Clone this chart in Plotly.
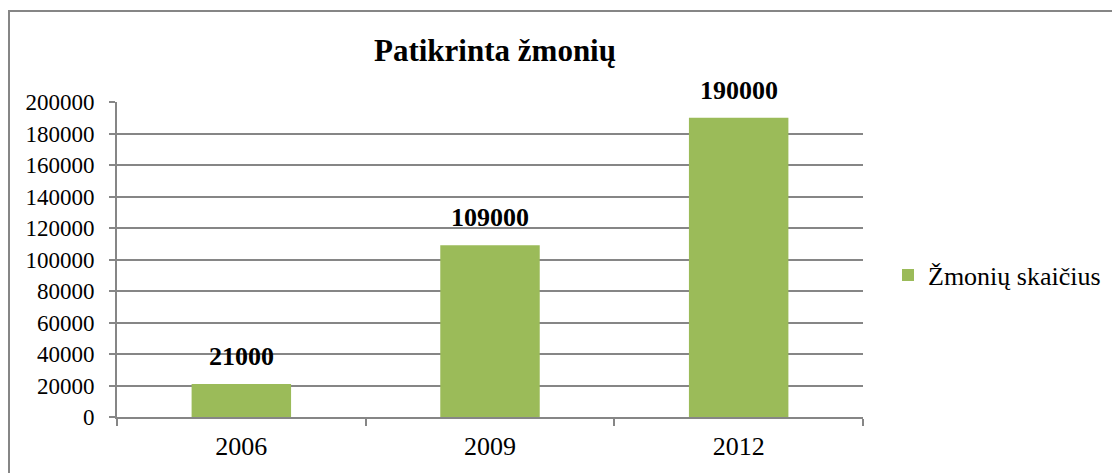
import plotly.graph_objects as go

categories = ["2006", "2009", "2012"]
values = [21000, 109000, 190000]
labels = ["21000", "109000", "190000"]
series_name = "Žmonių skaičius"
title = "Patikrinta žmonių"

GREEN = "#9BBB59"
GRAY = "#868686"
FONT = "'Liberation Serif', 'Times New Roman', Times, serif"

# page has an 8px body margin, so the figure is offset by (8, 8)
W, H = 1112, 465
L, R, T, B = 109, 257, 94, 56
PW = W - L - R
PH = H - T - B

fig = go.Figure()
fig.add_trace(go.Bar(
    x=categories, y=values, name=series_name,
    marker=dict(color=GREEN, line=dict(width=0)),
))

# annotations on a category axis: use the category index for x
annotations = [
    dict(x=i, y=v, xref="x", yref="y", text="<b>" + t + "</b>", showarrow=False,
         yanchor="bottom", yshift=11,
         font=dict(family=FONT, size=26, color="black"))
    for i, (v, t) in enumerate(zip(values, labels))
]

fig.update_layout(
    width=W, height=H,
    margin=dict(l=L, r=R, t=T, b=B, autoexpand=False),
    paper_bgcolor="white", plot_bgcolor="white",
    font=dict(family=FONT, color="black"),
    bargap=0.6,
    showlegend=True,
    legend=dict(x=(880 - L) / PW, y=(H - B - 267) / PH, xanchor="left", yanchor="middle",
                font=dict(family=FONT, size=26, color="black"),
                itemwidth=30, bgcolor="rgba(0,0,0,0)"),
    title=dict(text="<b>" + title + "</b>", x=487 / W, xanchor="center",
               y=1 - 42 / H, yanchor="middle", yref="container",
               font=dict(family=FONT, size=31, color="black")),
    xaxis=dict(type="category", categoryorder="array", categoryarray=categories,
               range=[-0.5, len(categories) - 0.5], autorange=False,
               showline=True, linecolor=GRAY, linewidth=2,
               ticks="outside", tickson="boundaries", ticklen=7, tickcolor=GRAY,
               tickwidth=2, showgrid=False, tickfont=dict(family=FONT, size=26),
               tickangle=0, ticklabelstandoff=5),
    yaxis=dict(range=[0, 200000], dtick=20000, showline=True, linecolor=GRAY,
               linewidth=2, ticks="outside", ticklen=6, tickcolor=GRAY, tickwidth=2,
               showgrid=True, gridcolor=GRAY, gridwidth=2, zeroline=False,
               tickfont=dict(family=FONT, size=23), tickformat="d",
               ticklabelstandoff=10),
    annotations=annotations,
    shapes=[
        dict(type="line", xref="paper", yref="paper",
             x0=(1 - L) / PW, x1=(1 - L) / PW, y0=(H - B - 3) / PH, y1=-(B + 20) / PH,
             line=dict(color=GRAY, width=2)),
        dict(type="line", xref="paper", yref="paper",
             x0=(0 - L) / PW, x1=(W + 10 - L) / PW, y0=(H - B - 3) / PH, y1=(H - B - 3) / PH,
             line=dict(color=GRAY, width=2)),
    ],
)

fig.write_html("out.html")
